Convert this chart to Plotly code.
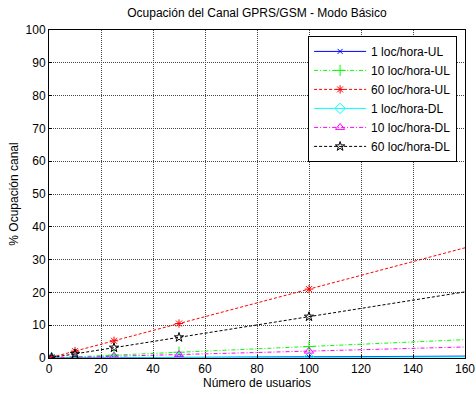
import plotly.graph_objects as go

usuarios = [1, 10, 25, 50, 100, 200]
ul_1 = [0.0035, 0.035, 0.0875, 0.175, 0.35, 0.70]
ul_10 = [0.035, 0.35, 0.875, 1.75, 3.5, 7.0]
ul_60 = [0.21, 2.1, 5.25, 10.5, 21.0, 42.0]
dl_1 = [0.0021, 0.021, 0.0525, 0.105, 0.21, 0.42]
dl_10 = [0.021, 0.21, 0.525, 1.05, 2.1, 4.2]
dl_60 = [0.126, 1.26, 3.15, 6.3, 12.6, 25.2]

series = [
    ("1 loc/hora-UL", ul_1, "#0000ff", "solid", "x-thin-open", 5),
    ("10 loc/hora-UL", ul_10, "#00ff00", "4px,2px,1px,2px", "cross-thin-open", 8),
    ("60 loc/hora-UL", ul_60, "#ff0000", "3px,2px", "asterisk-open", 7),
    ("1 loc/hora-DL", dl_1, "#00ffff", "solid", "diamond-open", 8),
    ("10 loc/hora-DL", dl_10, "#ff00ff", "4px,2px,1px,2px", "triangle-up-open", 8),
    ("60 loc/hora-DL", dl_60, "#000000", "3px,2px", "star-open", 7),
]

fig = go.Figure()
for name, vals, col, dash, sym, sz in series:
    fig.add_trace(go.Scatter(
        x=usuarios, y=vals, name=name, mode="lines+markers",
        line=dict(color=col, width=1, dash=dash),
        marker=dict(symbol=sym, size=sz, color=col, line=dict(color=col, width=1)),
        cliponaxis=True,
    ))

axis_common = dict(
    showgrid=True, gridcolor="#444444", griddash="1px,1px", gridwidth=1,
    showline=True, linecolor="black", linewidth=1, mirror=True,
    ticks="inside", ticklen=3, tickcolor="black", zeroline=False,
    tickfont=dict(size=12, color="black"), automargin=False,
)

fig.update_layout(
    width=476, height=394,
    margin=dict(l=49, r=11, t=30, b=36, autoexpand=False),
    paper_bgcolor="white", plot_bgcolor="white",
    font=dict(family="Liberation Sans, Arial, sans-serif", size=12, color="black"),
    title=dict(text="Ocupación del Canal GPRS/GSM - Modo Básico", x=0.5, xanchor="center",
               xref="paper", y=0.977, yanchor="top", font=dict(size=12)),
    xaxis=dict(range=[0, 160], dtick=20,
               title=dict(text="Número de usuarios", standoff=2, font=dict(size=12)),
               **axis_common),
    yaxis=dict(range=[0, 100], dtick=10,
               title=dict(text="% Ocupación canal", standoff=4, font=dict(size=12)),
               **axis_common),
    legend=dict(x=0.981, y=0.982, xanchor="right", yanchor="top",
                bgcolor="white", bordercolor="black", borderwidth=1,
                font=dict(size=12), tracegroupgap=0, itemwidth=52),
    showlegend=True,
)

fig.write_html("out.html", config={"displayModeBar": False},
               post_script="document.body.style.margin='0';document.body.style.overflow='hidden';")
